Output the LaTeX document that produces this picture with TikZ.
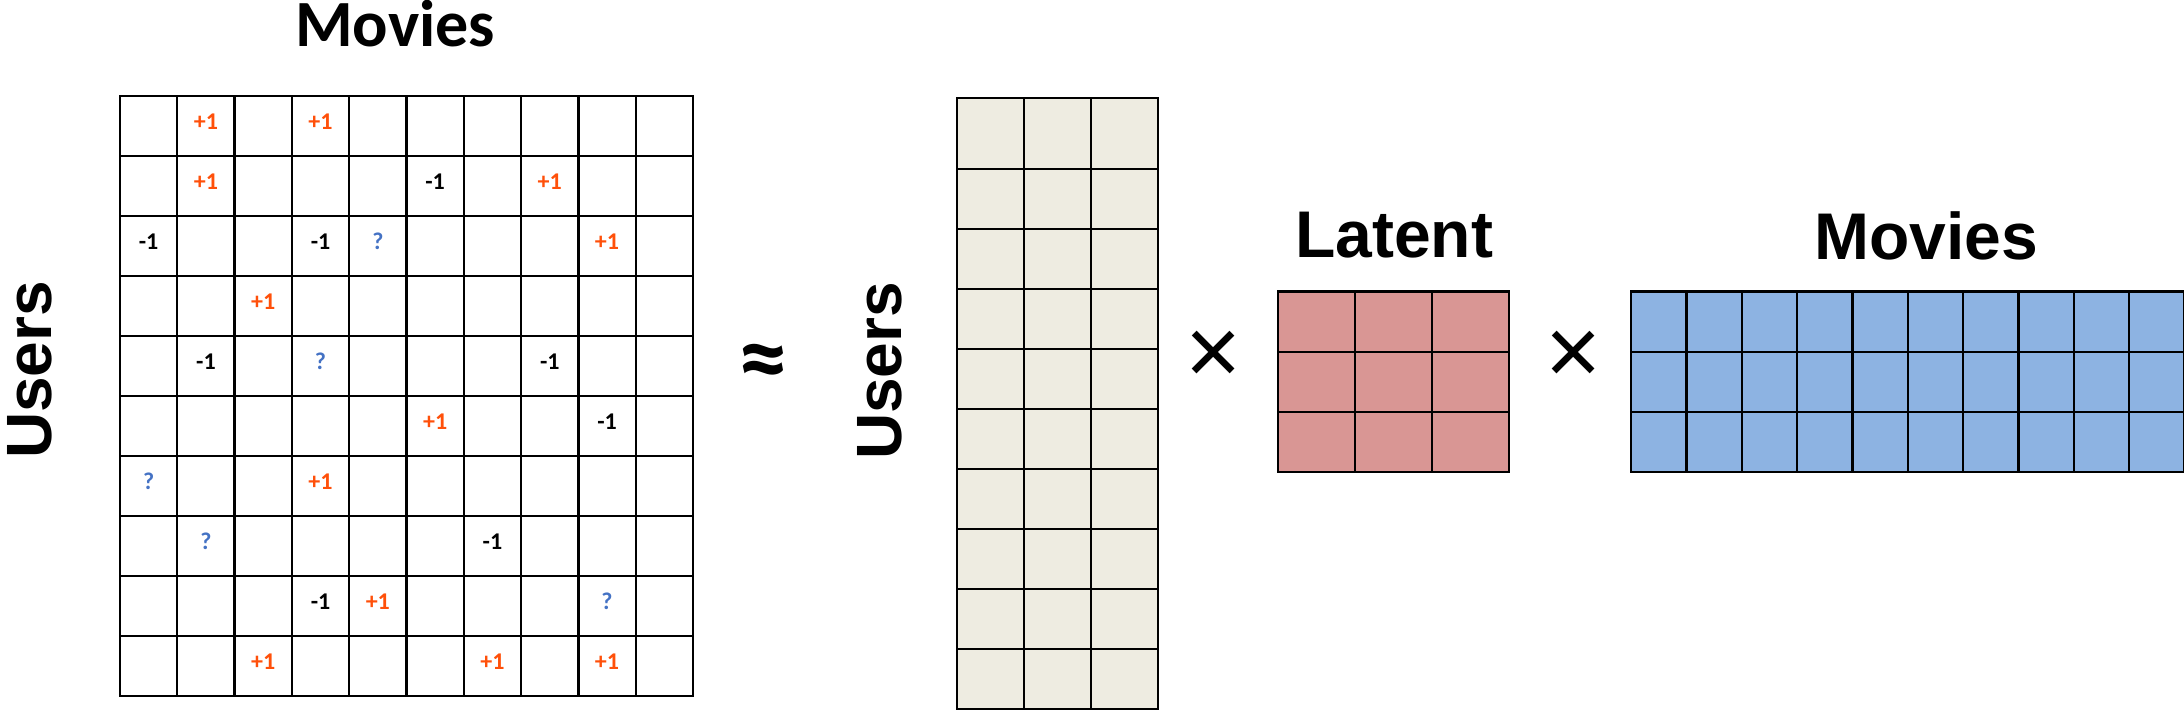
\documentclass[tikz,border=0pt]{standalone}
\usepackage{fontspec}
\setmainfont{Carlito}
\newfontfamily\headfont{Liberation Sans}
\usepackage{tikz}
\usetikzlibrary{arrows.meta}

\definecolor{rateorange}{RGB}{255,80,10}
\definecolor{rateblue}{RGB}{68,114,196}
\definecolor{usertan}{RGB}{238,236,225}
\definecolor{latentpink}{RGB}{217,150,148}
\definecolor{movieblue}{RGB}{141,179,226}

\begin{document}
\begin{tikzpicture}[x=1pt,y=-1pt,
    gridline/.style={draw=black,line width=2.3pt,line cap=rect}]
\useasboundingbox (0,0) rectangle (2184,710);

% titles and operators
\begin{scope}[every node/.style={inner sep=0pt}]
    \node[anchor=base] (movtitle) at (395,46) {\fontsize{66}{66}\selectfont\bfseries Movies};
    \node[anchor=base,rotate=90] (usrtitle) at (51,370) {\headfont\fontsize{64}{64}\selectfont\bfseries Users};
    \node (approx) at (763,368) {\fontsize{100}{100}\selectfont\bfseries ≈};
    \node[anchor=base,rotate=90] (usrfactor) at (901,371) {\headfont\fontsize{64}{64}\selectfont\bfseries Users};
    \node (times1) at (1214,358) {\headfont\fontsize{96}{96}\selectfont ×};
    \node[anchor=base] (lattitle) at (1394,257) {\headfont\fontsize{66}{66}\selectfont\bfseries Latent};
    \node (times2) at (1574,358) {\headfont\fontsize{96}{96}\selectfont ×};
    \node[anchor=base] (movfactor) at (1926,259) {\headfont\fontsize{66}{66}\selectfont\bfseries Movies};
\end{scope}

% ratings matrix
\foreach \i in {0,...,10}
    \draw[gridline] ({120+57.3*\i},96) -- ({120+57.3*\i},696);
\foreach \j in {0,...,10}
    \draw[gridline] (120,{96+60*\j}) -- (693,{96+60*\j});

\begin{scope}[every node/.style={anchor=base,inner sep=0pt,font=\fontsize{24}{24}\selectfont\bfseries},
              rateup/.style={text=rateorange},
              ratedown/.style={text=black},
              rateask/.style={text=rateblue}]
    \foreach \r/\c/\v/\k in {0/1/+1/rateup, 0/3/+1/rateup,
                             1/1/+1/rateup, 1/5/-1/ratedown, 1/7/+1/rateup,
                             2/0/-1/ratedown, 2/3/-1/ratedown, 2/4/?/rateask, 2/8/+1/rateup,
                             3/2/+1/rateup,
                             4/1/-1/ratedown, 4/3/?/rateask, 4/7/-1/ratedown,
                             5/5/+1/rateup, 5/8/-1/ratedown,
                             6/0/?/rateask, 6/3/+1/rateup,
                             7/1/?/rateask, 7/6/-1/ratedown,
                             8/3/-1/ratedown, 8/4/+1/rateup, 8/8/?/rateask,
                             9/2/+1/rateup, 9/6/+1/rateup, 9/8/+1/rateup}
        \node[\k] (e\r\c) at ({148.65+57.3*\c},{129+60*\r}) {\v};
\end{scope}

% users factor
\fill[usertan] (957,98) rectangle (1158,709);
\foreach \x in {957,1024,1091,1158}
    \draw[gridline] (\x,98) -- (\x,709);
\foreach \y in {98,169,229,289,349,409,469,529,589,649,709}
    \draw[gridline] (957,\y) -- (1158,\y);

% latent factor
\fill[latentpink] (1278,291.5) rectangle (1509,472);
\foreach \x in {1278,1355,1432,1509}
    \draw[gridline] (\x,291.5) -- (\x,472);
\foreach \y in {291.5,351.7,411.8,472}
    \draw[gridline] (1278,\y) -- (1509,\y);

% movies factor
\fill[movieblue] (1631,291.5) rectangle (2184.6,472);
\foreach \i in {0,...,10}
    \draw[gridline] ({1631+55.36*\i},291.5) -- ({1631+55.36*\i},472);
\foreach \y in {291.5,351.7,411.8,472}
    \draw[gridline] (1631,\y) -- (2184.6,\y);
\end{tikzpicture}
\end{document}
